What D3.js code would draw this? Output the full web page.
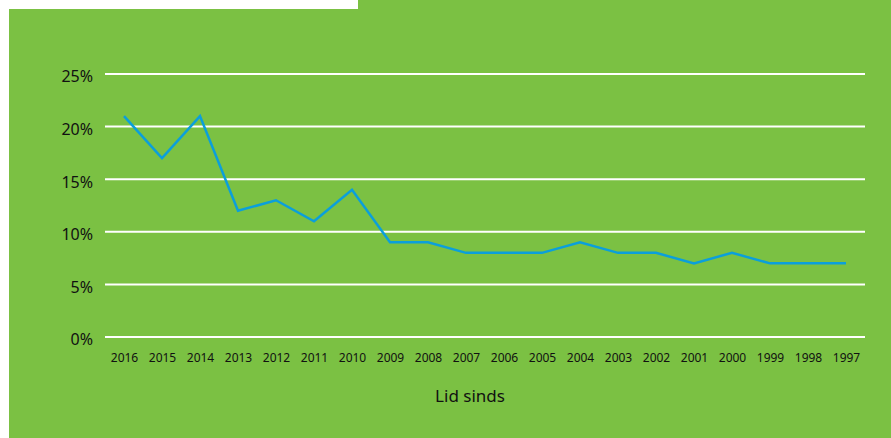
<!DOCTYPE html>
<html>
<head>
<meta charset="utf-8">
<script src="https://cdn.jsdelivr.net/npm/d3@7"></script>
<style>
  html, body { margin: 0; padding: 0; background: #fff; }
  svg { display: block; }
  text { font-family: 'Noto Sans', 'Open Sans', sans-serif; fill: #111; }
</style>
</head>
<body>
<svg id="chart"></svg>
<script>
var years = ["2016", "2015", "2014", "2013", "2012", "2011", "2010", "2009", "2008", "2007",
             "2006", "2005", "2004", "2003", "2002", "2001", "2000", "1999", "1998", "1997"];
var percent = [21, 17, 21, 12, 13, 11, 14, 9, 9, 8, 8, 8, 9, 8, 8, 7, 8, 7, 7, 7];
var yTicks = [0, 5, 10, 15, 20, 25];
var xTitle = "Lid sinds";

var width = 891, height = 438;
var svg = d3.select('#chart').attr('width', width).attr('height', height);

// green panel, with white notch on top-left
svg.append('rect').attr('x', 9).attr('y', 9).attr('width', width - 9).attr('height', height - 9)
  .style('fill', '#7bc143');
svg.append('rect').attr('x', 358).attr('y', 0).attr('width', width - 358).attr('height', 10)
  .style('fill', '#7bc143');

var x = d3.scalePoint().domain(years).range([105, 865]).padding(0.5);
var y = d3.scaleLinear().domain([0, 25]).range([337, 74]);

// gridlines
svg.append('g').selectAll('line').data(yTicks).enter().append('line')
  .attr('x1', 105).attr('x2', 865)
  .attr('y1', function (d) { return y(d); })
  .attr('y2', function (d) { return y(d); })
  .style('stroke', '#fff').style('stroke-width', 2);

// y labels
var yAxis = svg.append('g').attr('transform', 'translate(93,0)')
  .call(d3.axisLeft(y).tickValues(yTicks).tickSize(0).tickPadding(0)
    .tickFormat(function (d) { return d + '%'; }));
yAxis.select('.domain').remove();
yAxis.selectAll('text').attr('dy', '0.62em').attr('y', -2)
  .style('font-size', '16px').style('font-family', "'Noto Sans', sans-serif").style('fill', '#111');

// x labels
var xAxis = svg.append('g').attr('transform', 'translate(0,353)')
  .call(d3.axisBottom(x).tickSize(0).tickPadding(0));
xAxis.select('.domain').remove();
xAxis.selectAll('text').attr('dy', '0.71em').attr('y', 0)
  .style('font-size', '12px').style('font-family', "'Noto Sans', sans-serif").style('fill', '#111');

// line
var line = d3.line()
  .x(function (d, i) { return x(years[i]); })
  .y(function (d) { return y(d); });

svg.append('path').datum(percent).attr('d', line)
  .style('fill', 'none').style('stroke', '#0b9fdb').style('stroke-width', 2.5)
  .style('stroke-linejoin', 'miter');

// axis title
svg.append('text').attr('x', 470).attr('y', 402).attr('text-anchor', 'middle')
  .style('font-size', '17px').text(xTitle);
</script>
</body>
</html>
